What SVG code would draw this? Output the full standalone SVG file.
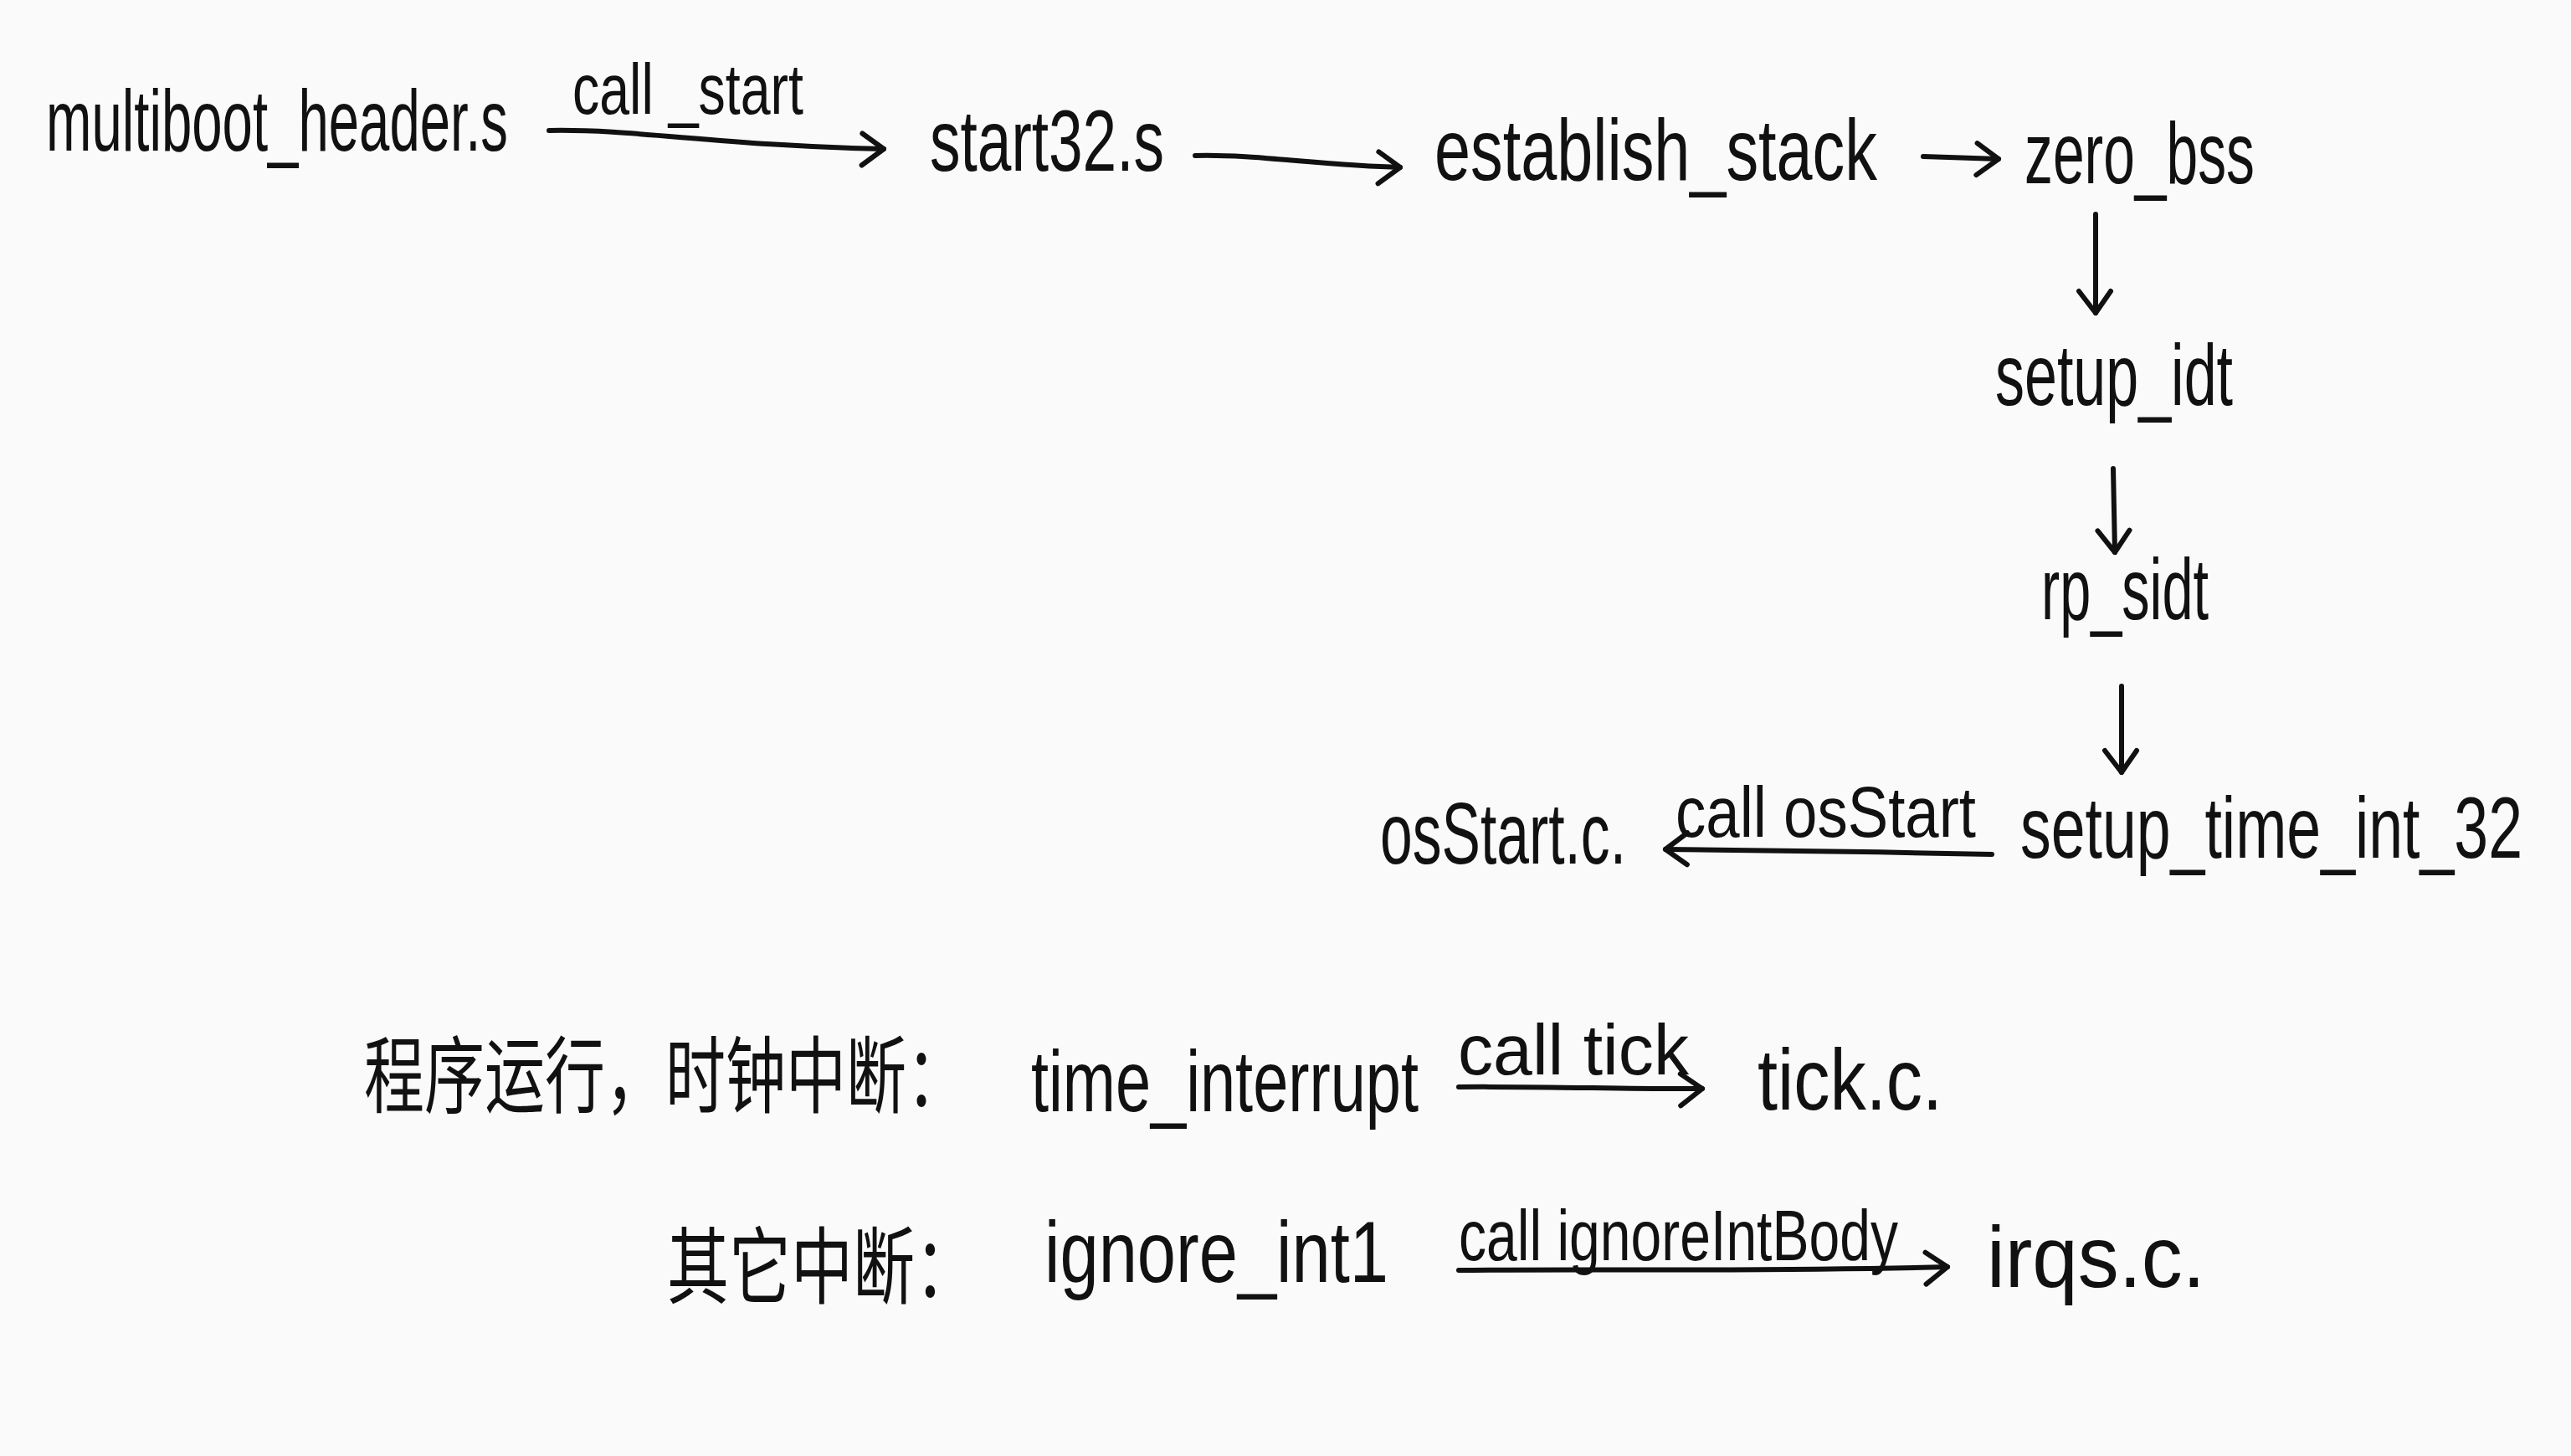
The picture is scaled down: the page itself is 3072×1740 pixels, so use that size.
<svg xmlns="http://www.w3.org/2000/svg" width="3072" height="1740" viewBox="0 0 3072 1740">
<defs>
<style>
.t{font-family:"Liberation Sans","DejaVu Sans",sans-serif;font-size:104px;fill:#111;}
.s{font-family:"Liberation Sans","DejaVu Sans",sans-serif;font-size:86px;fill:#111;}
.c{font-family:"Noto Sans CJK SC","Noto Sans",sans-serif;font-size:100px;fill:#111;}
.e{fill:none;stroke:#111;stroke-width:6;stroke-linecap:round;stroke-linejoin:round;}
</style>
<marker id="ah" markerUnits="userSpaceOnUse" markerWidth="60" markerHeight="60" refX="0" refY="0" viewBox="-40 -30 50 60" orient="auto">
<path d="M -26 -18 L 0 0 L -26 20" fill="none" stroke="#111" stroke-width="6" stroke-linecap="round" stroke-linejoin="round"/>
</marker>
</defs>
<rect width="3072" height="1740" fill="#fafafa"/>
<g id="n-multiboot"><text class="t" x="55" y="180" textLength="552" lengthAdjust="spacingAndGlyphs">multiboot_header.s</text></g>
<g id="n-start32"><text class="t" x="1111" y="204" textLength="280" lengthAdjust="spacingAndGlyphs">start32.s</text></g>
<g id="n-establish"><text class="t" x="1714" y="215" textLength="529" lengthAdjust="spacingAndGlyphs">establish_stack</text></g>
<g id="n-zerobss"><text class="t" x="2419" y="219" textLength="275" lengthAdjust="spacingAndGlyphs">zero_bss</text></g>
<g id="n-setupidt"><text class="t" x="2384" y="484" textLength="284" lengthAdjust="spacingAndGlyphs">setup_idt</text></g>
<g id="n-rpsidt"><text class="t" x="2439" y="740" textLength="200" lengthAdjust="spacingAndGlyphs">rp_sidt</text></g>
<g id="n-setuptime"><text class="t" x="2414" y="1025" textLength="600" lengthAdjust="spacingAndGlyphs">setup_time_int_32</text></g>
<g id="n-osstart"><text class="t" x="1649" y="1032" textLength="294" lengthAdjust="spacingAndGlyphs">osStart.c.</text></g>
<g id="n-clock"><text class="c" x="435" y="1322" textLength="720" lengthAdjust="spacingAndGlyphs">程序运行，时钟中断：</text></g>
<g id="n-timeint"><text class="t" x="1232" y="1328" textLength="463" lengthAdjust="spacingAndGlyphs">time_interrupt</text></g>
<g id="n-tickc"><text class="t" x="2100" y="1326" textLength="221" lengthAdjust="spacingAndGlyphs">tick.c.</text></g>
<g id="n-other"><text class="c" x="797" y="1550" textLength="370" lengthAdjust="spacingAndGlyphs">其它中断：</text></g>
<g id="n-ignore"><text class="t" x="1248" y="1532" textLength="411" lengthAdjust="spacingAndGlyphs">ignore_int1</text></g>
<g id="n-irqs"><text class="t" x="2374" y="1538" textLength="261" lengthAdjust="spacingAndGlyphs">irqs.c.</text></g>
<g id="connectors">
<path class="e" d="M 656 156 C 760 154 860 174 1056 178" marker-end="url(#ah)"/>
<text class="s" x="684" y="136" textLength="276" lengthAdjust="spacingAndGlyphs">call _start</text>
<path class="e" d="M 1428 186 C 1500 184 1580 198 1673 200" marker-end="url(#ah)"/>
<path class="e" d="M 2298 187 L 2388 190" marker-end="url(#ah)"/>
<path class="e" d="M 2504 256 L 2504 374" marker-end="url(#ah)"/>
<path class="e" d="M 2525 560 L 2527 660" marker-end="url(#ah)"/>
<path class="e" d="M 2535 820 L 2535 923" marker-end="url(#ah)"/>
<path class="e" d="M 2380 1021 C 2250 1018 2100 1016 1990 1015" marker-end="url(#ah)"/>
<text class="s" x="2002" y="1000" textLength="359" lengthAdjust="spacingAndGlyphs">call  osStart</text>
<path class="e" d="M 1743 1299 C 1850 1298 1950 1302 2034 1301" marker-end="url(#ah)"/>
<text class="s" x="1742" y="1284" textLength="276" lengthAdjust="spacingAndGlyphs">call tick</text>
<path class="e" d="M 1743 1518 C 1900 1516 2100 1520 2327 1514" marker-end="url(#ah)"/>
<text class="s" x="1743" y="1506" textLength="525" lengthAdjust="spacingAndGlyphs">call ignoreIntBody</text>
</g>
</svg>
